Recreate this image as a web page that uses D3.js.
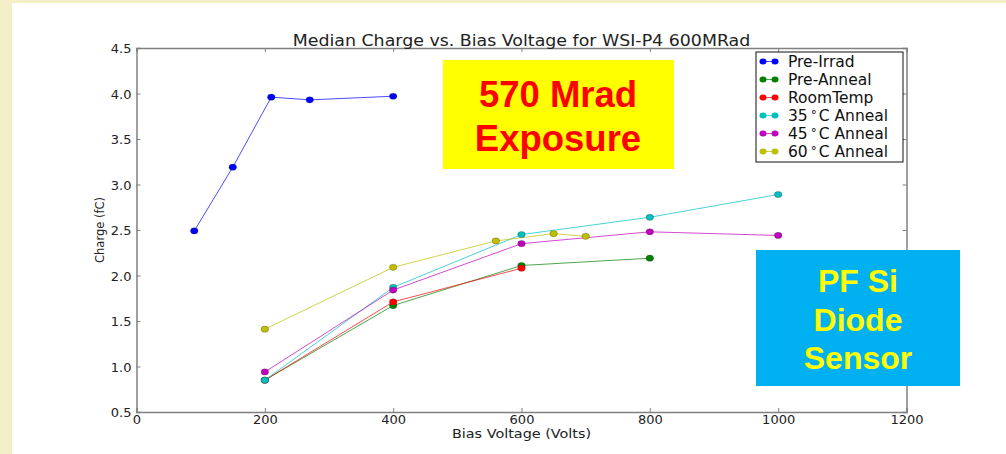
<!DOCTYPE html>
<html><head><meta charset="utf-8">
<script src="https://cdn.jsdelivr.net/npm/d3@7"></script>
<style>body{margin:0;background:#fff;} svg{display:block;}</style>
</head><body>
<svg id="c" width="1006" height="454"></svg>
<script>
// ---- data ----
const seriesNames = ["Pre-Irrad","Pre-Anneal","RoomTemp","35C Anneal","45C Anneal","60C Anneal"];
const seriesColors = ["#0000ff","#008000","#ff0000","#00bfbf","#bf00bf","#bfbf00"];
const preIrradX = [90,150,210,270,400];
const preIrradY = [2.49,3.19,3.96,3.93,3.97];
const preAnnealX = [200,400,600,800];
const preAnnealY = [0.85,1.67,2.11,2.19];
const roomTempX = [200,400,600];
const roomTempY = [0.85,1.71,2.08];
const anneal35X = [200,400,600,800,1000];
const anneal35Y = [0.85,1.87,2.45,2.64,2.89];
const anneal45X = [200,400,600,800,1000];
const anneal45Y = [0.94,1.84,2.35,2.48,2.44];
const anneal60X = [200,400,560,650,700];
const anneal60Y = [1.41,2.09,2.38,2.46,2.43];
const xTicks = [0,200,400,600,800,1000,1200];
const yTicks = [0.5,1.0,1.5,2.0,2.5,3.0,3.5,4.0,4.5];
const titleText = "Median Charge vs. Bias Voltage for WSI-P4 600MRad";
const xLabel = "Bias Voltage (Volts)";
const yLabel = "Charge (fC)";
const box1Lines = ["570 Mrad","Exposure"];
const box2Lines = ["PF Si","Diode","Sensor"];

const allX = [preIrradX,preAnnealX,roomTempX,anneal35X,anneal45X,anneal60X];
const allY = [preIrradY,preAnnealY,roomTempY,anneal35Y,anneal45Y,anneal60Y];
const series = seriesNames.map((n,i)=>({name:n,color:seriesColors[i],pts:allX[i].map((x,j)=>[x,allY[i][j]])}));

const svg = d3.select("#c");
// slide background
svg.append("rect").attr("x",0).attr("y",0).attr("width",1006).attr("height",454).attr("fill","#f3f0c8");
svg.append("rect").attr("x",12).attr("y",3).attr("width",994).attr("height",451).attr("fill","#ffffff");

const L=136.5,R=906.5,T=48,B=412;
const x = d3.scaleLinear().domain([0,1200]).range([L,R]);
const y = d3.scaleLinear().domain([0.5,4.5]).range([B,T]);
const axCol="#808080", txtCol="#222";
const FONT="DejaVu Sans, sans-serif";

// lines
const line = d3.line().x(d=>x(d[0])).y(d=>y(d[1]));
series.forEach(s=>{
  svg.append("path").attr("d",line(s.pts)).attr("fill","none").attr("stroke",s.color).attr("stroke-width",1).attr("stroke-opacity",0.7);
});
series.forEach(s=>{
  svg.selectAll(null).data(s.pts).enter().append("ellipse")
    .attr("cx",d=>x(d[0])).attr("cy",d=>y(d[1])).attr("rx",3.8).attr("ry",3.1)
    .attr("fill",s.color).attr("stroke","#333").attr("stroke-width",0.3);
});

// axes (ticks inside on all 4 sides)
const gB = svg.append("g").attr("transform",`translate(0,${B})`)
  .call(d3.axisBottom(x).tickValues(xTicks).tickSize(-4).tickPadding(3).tickFormat(d3.format("d")));
const gT = svg.append("g").attr("transform",`translate(0,${T})`)
  .call(d3.axisTop(x).tickValues(xTicks).tickSize(-4).tickFormat(""));
const gL = svg.append("g").attr("transform",`translate(${L},0)`)
  .call(d3.axisLeft(y).tickValues(yTicks).tickSize(-4).tickPadding(5).tickFormat(d3.format(".1f")));
const gR = svg.append("g").attr("transform",`translate(${R},0)`)
  .call(d3.axisRight(y).tickValues(yTicks).tickSize(-4).tickFormat(""));
[gB,gT,gL,gR].forEach(g=>{
  g.select(".domain").attr("stroke",axCol).attr("stroke-width",1.5);
  g.selectAll(".tick line").attr("stroke",axCol).attr("stroke-width",1);
  g.selectAll("text").attr("font-family",FONT).attr("font-size",13).attr("fill",txtCol);
});
gL.selectAll(".tick text").attr("dy","0.35em");
gB.selectAll(".tick text").attr("dy","0.72em");

// title & labels (reference text is stretched horizontally)
svg.append("text").attr("transform",`translate(${(L+R)/2},46) scale(1.16,1)`).attr("text-anchor","middle")
  .attr("font-family",FONT).attr("font-size",15).attr("fill",txtCol).text(titleText);
svg.append("text").attr("transform",`translate(${(L+R)/2},437.5) scale(1.22,1)`).attr("text-anchor","middle")
  .attr("font-family",FONT).attr("font-size",11.8).attr("fill",txtCol).text(xLabel);
svg.append("text").attr("transform",`translate(104,${(T+B)/2}) rotate(-90)`).attr("text-anchor","middle")
  .attr("font-family",FONT).attr("font-size",11.5).attr("fill",txtCol).text(yLabel);

// legend
const lg = svg.append("g");
lg.append("rect").attr("x",756).attr("y",52).attr("width",147).attr("height",110)
  .attr("fill","#fff").attr("stroke","#111").attr("stroke-width",1);
series.forEach((s,i)=>{
  const cy = 61.5 + i*18;
  lg.append("line").attr("x1",763).attr("x2",775).attr("y1",cy).attr("y2",cy).attr("stroke",s.color).attr("stroke-opacity",0.7);
  [763,775].forEach(cx=>lg.append("ellipse").attr("cx",cx).attr("cy",cy).attr("rx",3.5).attr("ry",3).attr("fill",s.color));
  const t = lg.append("text").attr("x",788).attr("y",cy+5.5).attr("font-family",FONT).attr("font-size",15.5).attr("fill","#111");
  const m = s.name.match(/^(\d+)C (.*)$/);
  if(m){
    t.append("tspan").text(m[1]);
    t.append("tspan").attr("font-size",12).attr("dx",3).attr("dy",-2).text("\u00B0");
    t.append("tspan").attr("dx",2).attr("dy",2).text("C "+m[2]);
  } else t.text(s.name);
});

// annotation boxes
svg.append("rect").attr("x",443).attr("y",60).attr("width",231).attr("height",109).attr("fill","#ffff00");
box1Lines.forEach((l,i)=>svg.append("text").attr("x",558).attr("y",107+i*44).attr("text-anchor","middle")
  .attr("font-family","Liberation Sans, Arial, sans-serif").attr("font-weight","bold").attr("font-size",36.5)
  .attr("fill","#ff0000").text(l));
svg.append("rect").attr("x",756).attr("y",250).attr("width",204).attr("height",136).attr("fill","#00b0f0");
box2Lines.forEach((l,i)=>svg.append("text").attr("x",858).attr("y",292+i*38.5).attr("text-anchor","middle")
  .attr("font-family","Liberation Sans, Arial, sans-serif").attr("font-weight","bold").attr("font-size",32)
  .attr("fill","#ffff00").text(l));
</script>
</body></html>
